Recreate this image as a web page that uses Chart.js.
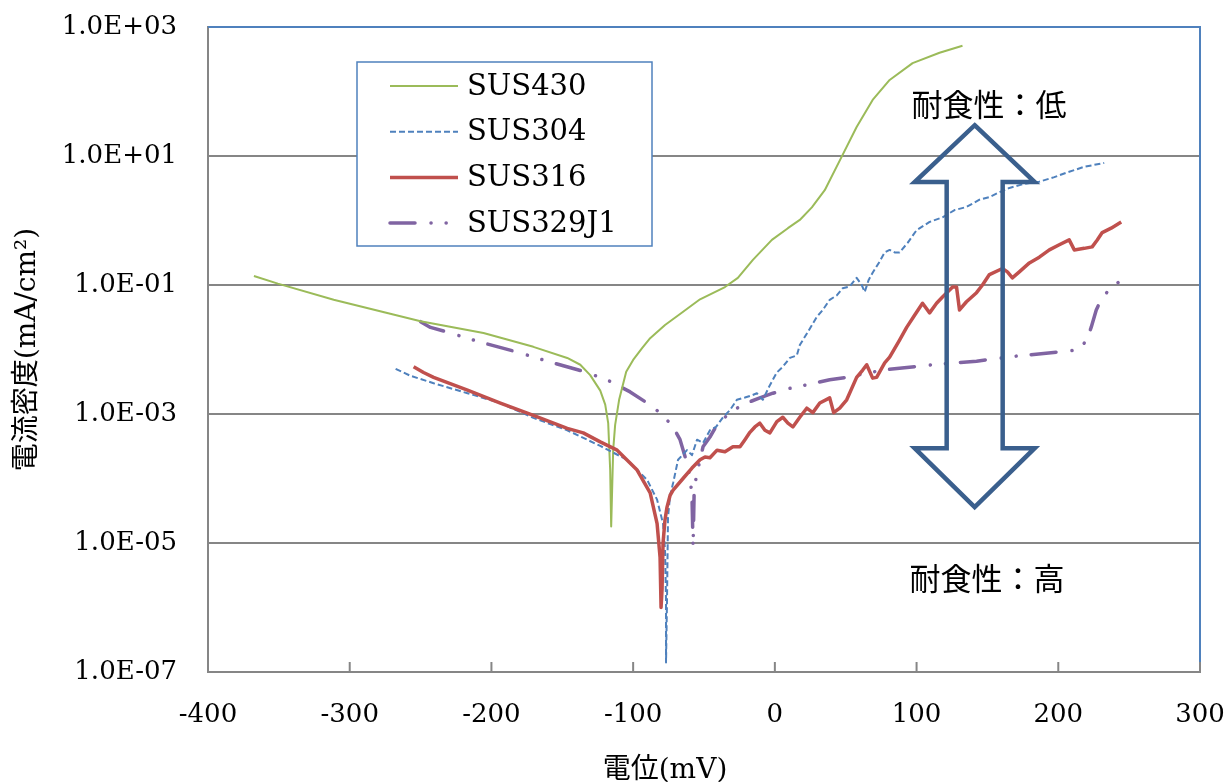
<!DOCTYPE html>
<html>
<head>
<meta charset="utf-8">
<script src="https://cdn.jsdelivr.net/npm/chart.js@4.4.1/dist/chart.umd.min.js"></script>
<style>
  body { margin: 0; background: #fff; }
</style>
</head>
<body>
<canvas id="polChart" width="1229" height="782"></canvas>
<script>
const seriesNames = ['SUS430', 'SUS304', 'SUS316', 'SUS329J1'];

// potential (mV) / current density (mA/cm2)
const sus430Mv = [-367.6, -350.7, -311.3, -250, -205.6, -170.4, -146.5, -137.3, -130.3, -123.2,
  -119.7, -117.6, -116.2, -115.5, -114.1, -112.7, -109.9, -104.9, -100, -93.7,
  -88, -77.5, -66.9, -52.8, -35.2, -26.1, -15.5, -2.1, 9.2, 17.6,
  26.1, 35.2, 47.9, 57.7, 69, 81, 97.2, 116.2, 132.4];
const sus430Cur = [1.38e-1, 1.05e-1, 5.9e-2, 2.75e-2, 1.8e-2, 1.1e-2, 7.4e-3, 5.8e-3, 4.0e-3, 2.3e-3,
  1.4e-3, 7.2e-4, 1.35e-4, 1.8e-5, 2.75e-4, 6.8e-4, 1.66e-3, 4.5e-3, 6.9e-3, 1.05e-2,
  1.5e-2, 2.4e-2, 3.55e-2, 6.0e-2, 9.3e-2, 1.29e-1, 2.45e-1, 5.0e-1, 7.6e-1, 1.02,
  1.6, 2.95, 10.5, 28.2, 74, 151, 275, 398, 513];

const sus304Mv = [-267.6, -257, -240.8, -216.9, -193.7, -170.4, -146.5, -123.2, -104.2, -90.1,
  -83.1, -78.9, -77.5, -76.8, -76.8, -76.1, -75.4, -73.9, -71.8, -68.3,
  -62, -58.5, -54.9, -50.7, -45.8, -41.5, -36.6, -31.7, -26.8, -21.1,
  -16.2, -12.7, -8.5, -3.5, 1.4, 5.6, 10.6, 15.5, 17.6, 23.2,
  29.6, 33.8, 38.7, 43.7, 47.9, 52.8, 57.7, 61.3, 63.4, 66.2,
  69, 73.9, 77.5, 81, 84.5, 88, 93.7, 100, 109.2, 118.3,
  126.8, 135.2, 144.4, 151.4, 158.5, 165.5, 176, 186.6, 197.2, 205.6,
  218.3, 232.4];
const sus304Cur = [5.0e-3, 3.9e-3, 3.0e-3, 2.1e-3, 1.48e-3, 8.7e-4, 5.6e-4, 3.2e-4, 1.95e-4, 9.5e-5,
  4.7e-5, 2.0e-5, 7.8e-6, 1.3e-6, 1.4e-7, 1.3e-6, 2.5e-5, 5.5e-5, 8.5e-5, 1.95e-4,
  2.75e-4, 2.3e-4, 4.0e-4, 3.55e-4, 5.6e-4, 6.3e-4, 8.9e-4, 1.15e-3, 1.66e-3, 1.8e-3,
  1.95e-3, 2.1e-3, 1.66e-3, 2.8e-3, 4.4e-3, 5.4e-3, 7.4e-3, 8.1e-3, 1.17e-2, 1.86e-2,
  3.2e-2, 4.1e-2, 5.9e-2, 6.9e-2, 8.9e-2, 9.5e-2, 1.29e-1, 1.0e-1, 7.8e-2, 1.2e-1,
  1.55e-1, 2.3e-1, 3.2e-1, 3.5e-1, 3.2e-1, 3.2e-1, 4.5e-1, 7.1e-1, 9.5e-1, 1.12,
  1.45, 1.62, 2.1, 2.3, 2.75, 3.2, 3.7, 4.0, 4.7, 5.5,
  6.8, 7.8];

const sus316Mv = [-254.9, -247.9, -240.8, -216.9, -193.7, -170.4, -146.5, -135.2, -123.2, -111.3,
  -97.2, -88, -83.1, -81, -80.3, -79.6, -78.9, -77.5, -76.1, -73.9,
  -71.8, -64.8, -58.5, -52.8, -49.3, -45.8, -40.8, -35.2, -29.6, -24.6,
  -21.1, -17.6, -14.1, -10.6, -7, -3.5, 1.4, 5.6, 9.2, 12.7,
  17.6, 22.5, 26.8, 31.7, 38.7, 41.5, 45.8, 50.7, 57.7, 62,
  64.8, 69, 71.8, 77.5, 81, 88, 93, 98.6, 104.2, 109.2,
  114.1, 118.3, 125.4, 128.2, 130.3, 135.2, 142.3, 146.5, 151.4, 160.6,
  164.1, 167.6, 172.5, 179.6, 186.6, 193.7, 200.7, 207.7, 211.3, 218.3,
  223.9, 227.5, 231, 237.3, 244.4];
const sus316Cur = [5.4e-3, 4.4e-3, 3.7e-3, 2.35e-3, 1.48e-3, 9.5e-4, 6.0e-4, 5.1e-4, 3.7e-4, 2.75e-4,
  1.35e-4, 6.0e-5, 2.0e-5, 6.0e-6, 1.0e-6, 1.9e-6, 1.0e-5, 2.3e-5, 3.6e-5, 5.5e-5,
  6.6e-5, 1.0e-4, 1.45e-4, 1.95e-4, 2.15e-4, 2.1e-4, 2.75e-4, 2.6e-4, 3.1e-4, 3.1e-4,
  4.0e-4, 5.2e-4, 6.3e-4, 7.2e-4, 5.6e-4, 5.1e-4, 7.6e-4, 8.9e-4, 7.2e-4, 6.3e-4,
  8.9e-4, 1.23e-3, 1.05e-3, 1.48e-3, 1.78e-3, 1.05e-3, 1.23e-3, 1.66e-3, 3.7e-3, 4.8e-3,
  5.8e-3, 3.6e-3, 3.7e-3, 6.2e-3, 7.6e-3, 1.4e-2, 2.2e-2, 3.4e-2, 5.2e-2, 3.7e-2,
  5.2e-2, 6.5e-2, 9.3e-2, 9.3e-2, 4.1e-2, 5.5e-2, 7.6e-2, 1.0e-1, 1.45e-1, 1.8e-1,
  1.6e-1, 1.29e-1, 1.6e-1, 2.2e-1, 2.7e-1, 3.5e-1, 4.2e-1, 5.0e-1, 3.5e-1, 3.7e-1,
  3.9e-1, 5.0e-1, 6.5e-1, 7.6e-1, 9.5e-1];

const sus329Mv = [-250, -243, -231, -207.7, -181.7, -158.5, -132.4, -116.2, -102.1, -88,
  -78.9, -71.8, -66.9, -62, -59.9, -58.5, -57.7, -57, -55.6, -50.7,
  -45.8, -40.8, -33.8, -26.8, -17.6, -10.6, -1.4, 10.6, 24.6, 38.7,
  50.7, 76, 111.3, 142.3, 170.4, 213.4, 219.7, 223.2, 226.8, 231,
  235.9, 244.4];
const sus329Cur = [2.7e-2, 2.2e-2, 1.86e-2, 1.3e-2, 9.1e-3, 6.4e-3, 4.4e-3, 3.2e-3, 2.2e-3, 1.38e-3,
  9.5e-4, 6.3e-4, 4.0e-4, 1.74e-4, 1.05e-4, 5.5e-5, 8.7e-6, 5.5e-5, 1.05e-4, 3.1e-4,
  4.4e-4, 6.8e-4, 9.5e-4, 1.23e-3, 1.55e-3, 1.78e-3, 2.1e-3, 2.5e-3, 2.9e-3, 3.4e-3,
  3.7e-3, 4.8e-3, 5.8e-3, 6.6e-3, 7.9e-3, 9.8e-3, 1.35e-2, 2.2e-2, 4.1e-2, 6.5e-2,
  8.3e-2, 1.2e-1];

const xTickValues = [-400, -300, -200, -100, 0, 100, 200, 300];
const yTickValues = [1e-7, 1e-5, 1e-3, 1e-1, 1e1, 1e3];
const xTitle = '電位(mV)';
const yTitle = '電流密度(mA/cm²)';
const noteTop = '耐食性：低';
const noteBottom = '耐食性：高';

function toPoints(mv, cur) {
  return mv.map((x, i) => ({ x: x, y: cur[i] }));
}

function sciLabel(v) {
  const e = Math.round(Math.log10(v));
  return '1.0E' + (e < 0 ? '-' : '+') + String(Math.abs(e)).padStart(2, '0');
}

const decor = {
  id: 'decor',
  beforeDraw(chart) {
    const ctx = chart.ctx;
    ctx.save();
    ctx.fillStyle = '#fff';
    ctx.fillRect(0, 0, chart.width, chart.height);
    ctx.restore();
  },
  afterDatasetsDraw(chart) {
    const ctx = chart.ctx;
    const xs = chart.scales.x, ys = chart.scales.y;
    ctx.save();

    // double arrow
    const cx = xs.getPixelForValue(141);
    const tipTop = ys.getPixelForValue(30);
    const headTop = ys.getPixelForValue(3.95);
    const headBot = ys.getPixelForValue(2.95e-4);
    const tipBot = ys.getPixelForValue(3.6e-5);
    const hw = 60, sw = 28;
    ctx.beginPath();
    ctx.moveTo(cx, tipTop);
    ctx.lineTo(cx + hw, headTop);
    ctx.lineTo(cx + sw, headTop);
    ctx.lineTo(cx + sw, headBot);
    ctx.lineTo(cx + hw, headBot);
    ctx.lineTo(cx, tipBot);
    ctx.lineTo(cx - hw, headBot);
    ctx.lineTo(cx - sw, headBot);
    ctx.lineTo(cx - sw, headTop);
    ctx.lineTo(cx - hw, headTop);
    ctx.closePath();
    ctx.strokeStyle = '#3A5F8D';
    ctx.lineWidth = 4.5;
    ctx.lineJoin = 'miter';
    ctx.stroke();

    ctx.fillStyle = '#000';
    ctx.font = '31px "Noto Sans CJK JP"';
    ctx.textAlign = 'center';
    ctx.textBaseline = 'middle';
    ctx.fillText(noteTop, 989, 104);
    ctx.fillText(noteBottom, 987, 578);

    // legend
    const lx = 357, ly = 62, lw = 295, lh = 184;
    ctx.fillStyle = '#fff';
    ctx.fillRect(lx, ly, lw, lh);
    ctx.strokeStyle = '#4F81BD';
    ctx.lineWidth = 1.5;
    ctx.setLineDash([]);
    ctx.strokeRect(lx, ly, lw, lh);
    chart.data.datasets.forEach((ds, i) => {
      const ry = 86 + i * 45.7;
      ctx.save();
      ctx.strokeStyle = ds.borderColor;
      ctx.lineWidth = ds.borderWidth;
      ctx.setLineDash(ds.borderDash || []);
      ctx.lineCap = ds.borderCapStyle || 'butt';
      ctx.beginPath();
      ctx.moveTo(390, ry);
      ctx.lineTo(458, ry);
      ctx.stroke();
      ctx.restore();
      ctx.fillStyle = '#000';
      ctx.font = '29px "DejaVu Serif"';
      ctx.textAlign = 'left';
      ctx.textBaseline = 'middle';
      ctx.fillText(ds.label, 467, ry + 1);
    });
    ctx.restore();
  },
  afterDraw(chart) {
    const ctx = chart.ctx;
    const a = chart.chartArea;
    const xs = chart.scales.x;
    ctx.save();
    // plot area frame (top / right)
    ctx.strokeStyle = '#4F81BD';
    ctx.lineWidth = 2;
    ctx.beginPath();
    ctx.moveTo(a.left, a.top);
    ctx.lineTo(a.right, a.top);
    ctx.lineTo(a.right, a.bottom);
    ctx.stroke();
    // inner tick marks on x axis
    ctx.strokeStyle = '#868686';
    ctx.lineWidth = 2;
    xTickValues.forEach(v => {
      const px = xs.getPixelForValue(v);
      ctx.beginPath();
      ctx.moveTo(px, a.bottom - 10);
      ctx.lineTo(px, a.bottom);
      ctx.stroke();
    });
    // axis titles
    ctx.fillStyle = '#000';
    ctx.font = '28px "DejaVu Serif", "Noto Sans CJK JP"';
    ctx.textAlign = 'center';
    ctx.textBaseline = 'middle';
    ctx.fillText(xTitle, 665, 771);
    ctx.translate(28, (a.top + a.bottom) / 2);
    ctx.rotate(-Math.PI / 2);
    ctx.fillText(yTitle, 0, 0);
    ctx.restore();
  }
};

const ctx = document.getElementById('polChart').getContext('2d');
new Chart(ctx, {
  type: 'scatter',
  data: {
    datasets: [
      { label: seriesNames[0], data: toPoints(sus430Mv, sus430Cur), showLine: true,
        borderColor: '#9BBB59', borderWidth: 2, order: 2 },
      { label: seriesNames[1], data: toPoints(sus304Mv, sus304Cur), showLine: true,
        borderColor: '#4F81BD', borderWidth: 2, borderDash: [6, 3], order: 1 },
      { label: seriesNames[2], data: toPoints(sus316Mv, sus316Cur), showLine: true,
        borderColor: '#C0504D', borderWidth: 3.5, order: 0 },
      { label: seriesNames[3], data: toPoints(sus329Mv, sus329Cur), showLine: true,
        borderColor: '#8064A2', borderWidth: 3.5, borderDash: [25, 16, 0.1, 15, 0.1, 15],
        borderCapStyle: 'round', order: 3 }
    ]
  },
  options: {
    responsive: false,
    animation: false,
    devicePixelRatio: 1,
    layout: { padding: { left: 0, right: 29, top: 27, bottom: 0 } },
    elements: {
      point: { radius: 0, hoverRadius: 0 },
      line: { tension: 0, borderJoinStyle: 'round', backgroundColor: 'transparent' }
    },
    plugins: {
      legend: { display: false },
      tooltip: { enabled: false }
    },
    scales: {
      x: {
        type: 'linear',
        min: -400,
        max: 300,
        afterBuildTicks: s => { s.ticks = xTickValues.map(v => ({ value: v })); },
        afterFit: s => { s.height = 110; s.paddingLeft = 0; s.paddingRight = 0; },
        grid: { display: false, drawTicks: false },
        border: { color: '#868686', width: 2 },
        ticks: {
          padding: 28,
          color: '#000',
          font: { family: 'DejaVu Serif', size: 26 },
          maxRotation: 0,
          autoSkip: false,
          callback: v => String(v)
        }
      },
      y: {
        type: 'logarithmic',
        min: 1e-7,
        max: 1e3,
        afterBuildTicks: s => { s.ticks = yTickValues.map(v => ({ value: v })); },
        afterFit: s => { s.width = 208; s.paddingTop = 0; s.paddingBottom = 0; },
        grid: {
          drawTicks: false,
          lineWidth: 2,
          color: c => (c.tick && c.tick.value >= 1e3) ? 'rgba(0,0,0,0)' : '#868686'
        },
        border: { color: '#868686', width: 2 },
        ticks: {
          padding: 31,
          color: '#000',
          font: { family: 'DejaVu Serif', size: 26 },
          autoSkip: false,
          callback: v => sciLabel(v)
        }
      }
    }
  },
  plugins: [decor]
});
</script>
</body>
</html>
